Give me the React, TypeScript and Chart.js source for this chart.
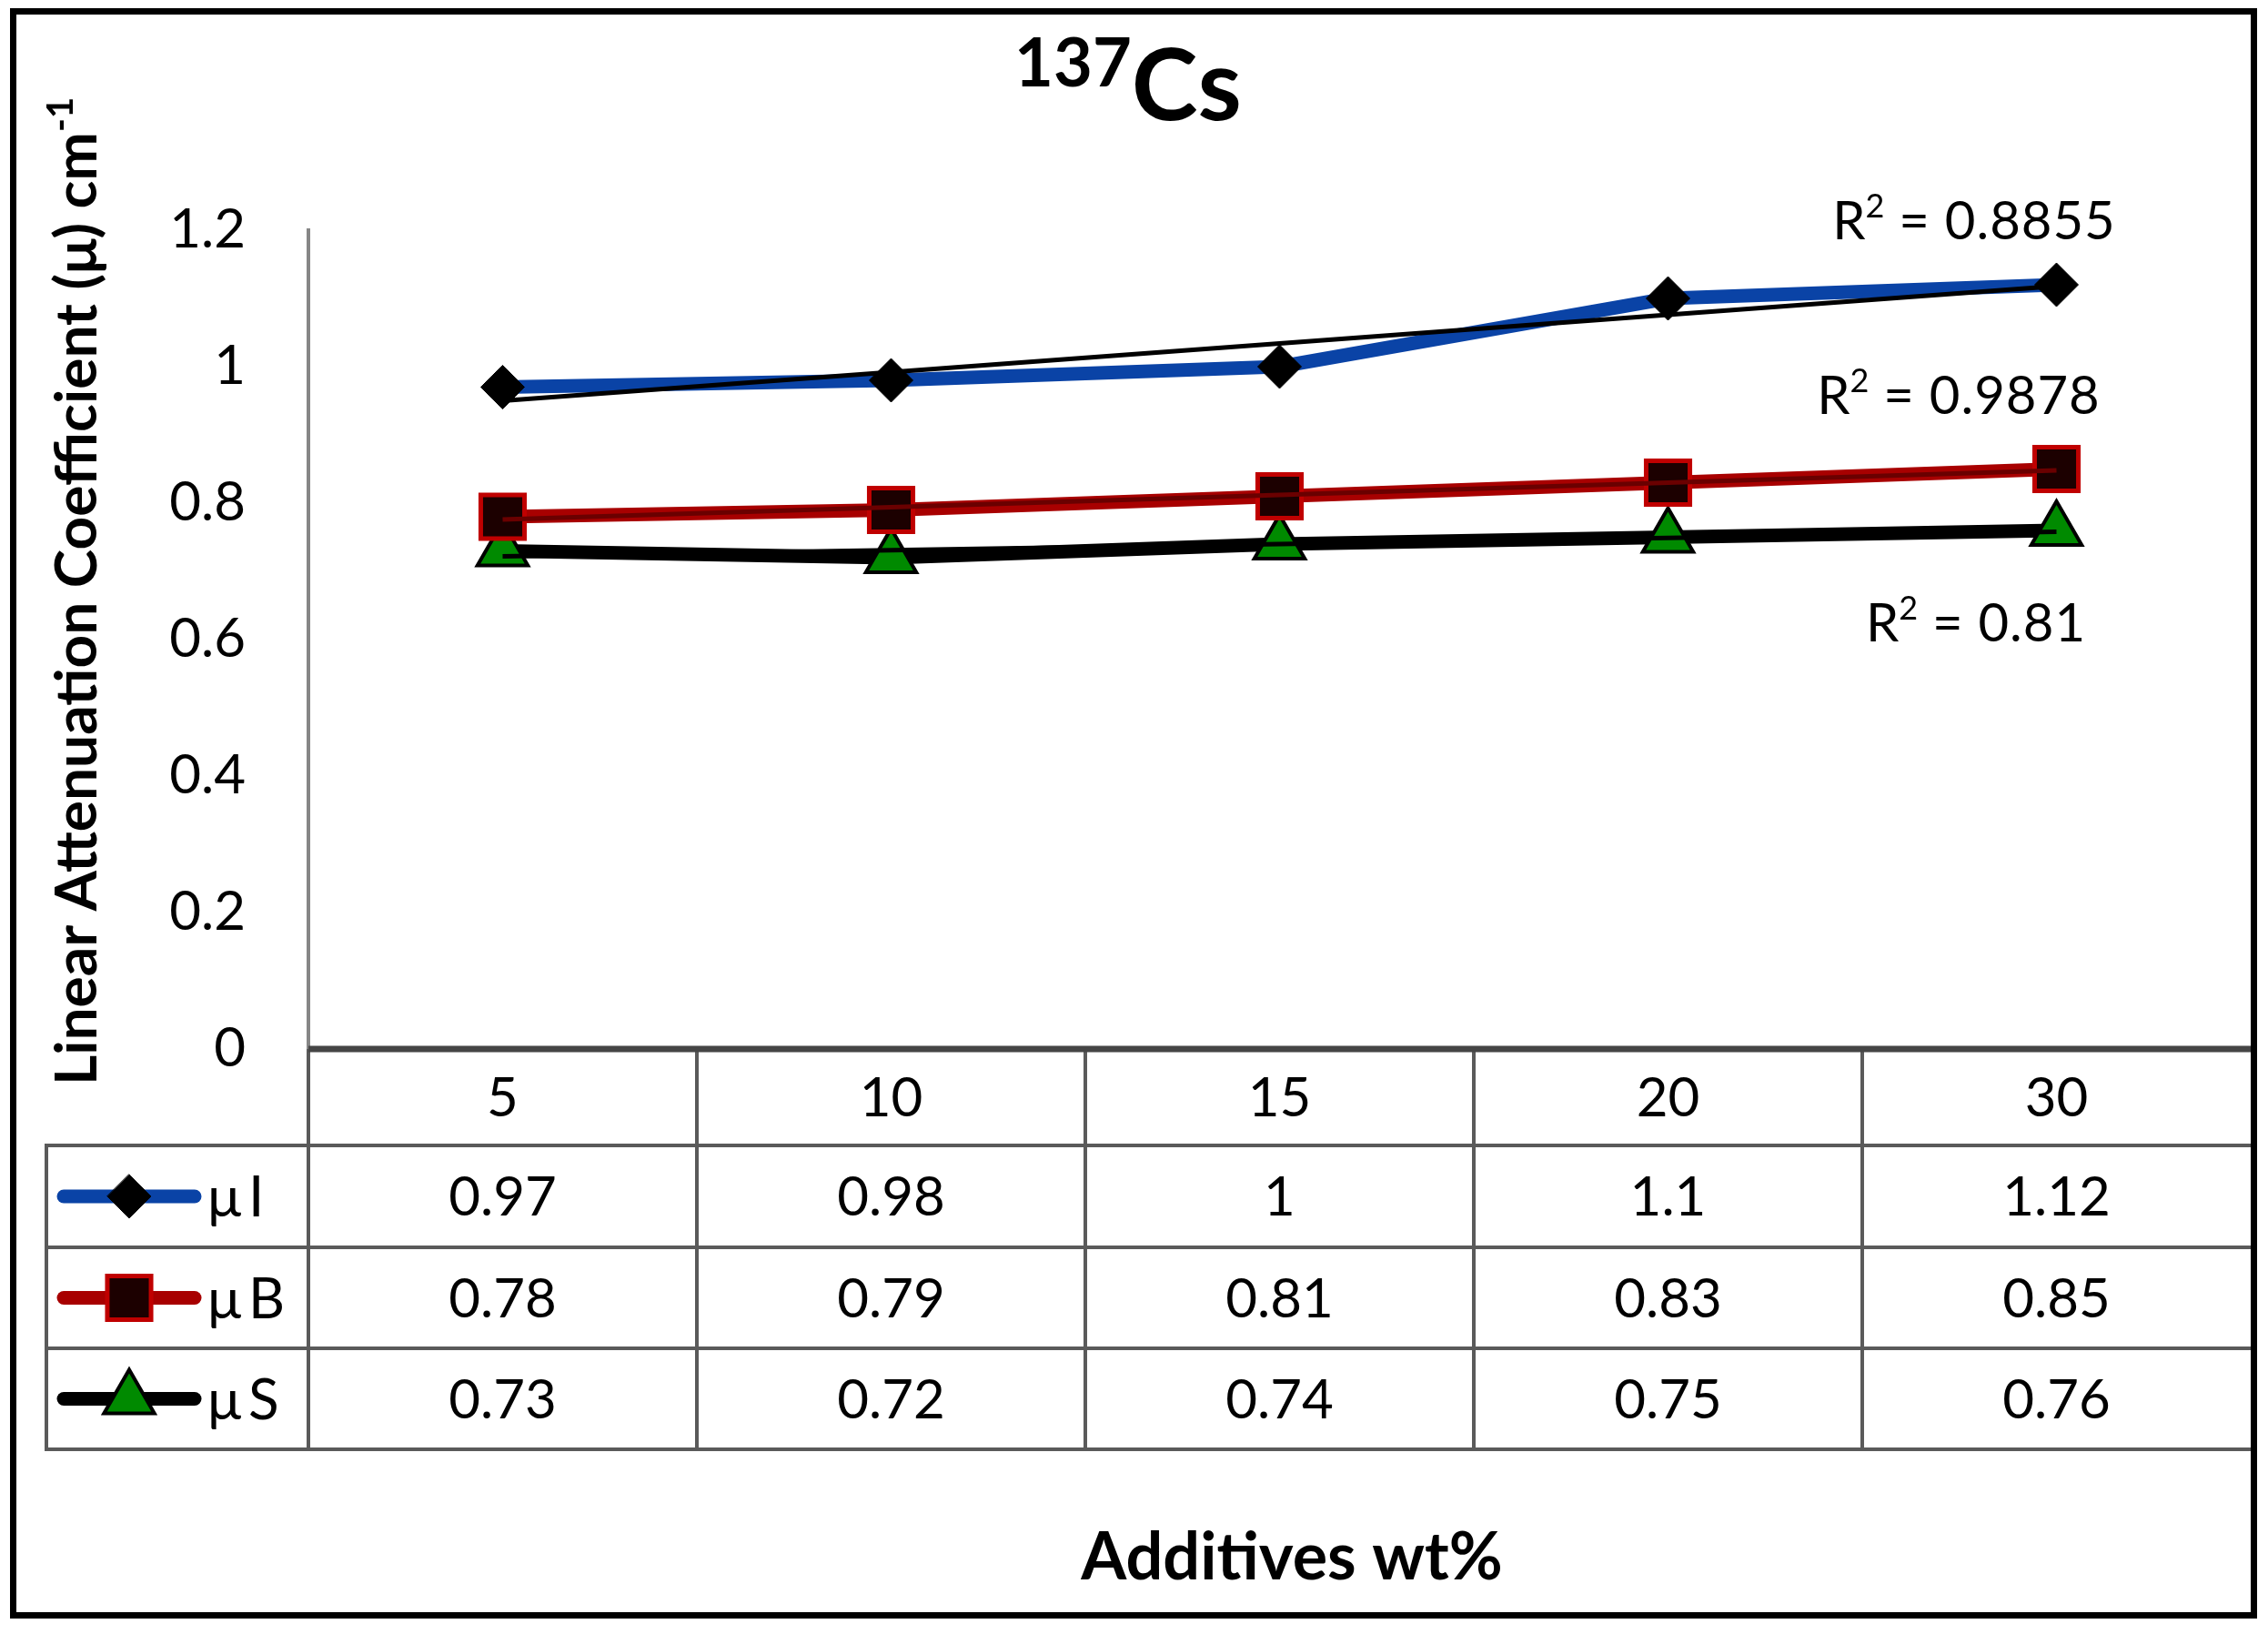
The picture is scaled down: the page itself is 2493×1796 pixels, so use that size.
import React, { useEffect, useRef } from 'react';
import { Chart, registerables } from 'chart.js';

Chart.register(...registerables);

// ---- data ----
const categories = ['5', '10', '15', '20', '30'];
const seriesNames = ['μI', 'μB', 'μS'];
const muI = [0.97, 0.98, 1, 1.1, 1.12];
const muB = [0.78, 0.79, 0.81, 0.83, 0.85];
const muS = [0.73, 0.72, 0.74, 0.75, 0.76];
const yTicks = [0, 0.2, 0.4, 0.6, 0.8, 1, 1.2];
const titleSup = '137';
const titleMain = 'Cs';
const yTitleMain = 'Linear Attenuation Coefficient (μ) cm';
const yTitleSup = '-1';
const xTitle = 'Additives wt%';

const W = 2493;
const H = 1796;
const FONT = 'Lato';

// Excel-style linear trendline (x = 1..n), computed from the data
function linearFit(values: number[]) {
  const n = values.length;
  const xs = values.map((_, i) => i + 1);
  const mx = xs.reduce((a, b) => a + b, 0) / n;
  const my = values.reduce((a, b) => a + b, 0) / n;
  let sxy = 0, sxx = 0, syy = 0;
  for (let i = 0; i < n; i++) {
    sxy += (xs[i] - mx) * (values[i] - my);
    sxx += (xs[i] - mx) ** 2;
    syy += (values[i] - my) ** 2;
  }
  const slope = sxy / sxx;
  const icpt = my - slope * mx;
  return { fitted: xs.map((x) => icpt + slope * x), r2: (sxy * sxy) / (sxx * syy) };
}

type Part = { t: string; font: string; dy: number; ls?: number };

function drawParts(ctx: CanvasRenderingContext2D, parts: Part[], x: number, y: number, align: 'center' | 'left') {
  let total = 0;
  parts.forEach((p) => {
    ctx.font = p.font;
    (ctx as any).letterSpacing = (p.ls || 0) + 'px';
    total += ctx.measureText(p.t).width;
  });
  let cx = align === 'center' ? x - total / 2 : x;
  ctx.textAlign = 'left';
  ctx.textBaseline = 'alphabetic';
  parts.forEach((p) => {
    ctx.font = p.font;
    (ctx as any).letterSpacing = (p.ls || 0) + 'px';
    ctx.fillText(p.t, cx, y + p.dy);
    cx += ctx.measureText(p.t).width;
  });
  (ctx as any).letterSpacing = '0px';
}

type MarkerStyle = { shape: string; r: number; fill: string; stroke: string; bw: number; line: string; lw: number };

const styles: MarkerStyle[] = [
  { shape: 'rectRot', r: 24, fill: '#000000', stroke: '#000000', bw: 1, line: '#0a43a6', lw: 15 },
  { shape: 'rect', r: 34, fill: '#1c0000', stroke: '#c00000', bw: 5, line: '#a80000', lw: 15 },
  { shape: 'triangle', r: 32, fill: '#008a00', stroke: '#000000', bw: 4, line: '#000000', lw: 15 },
];
const trendColors = ['#000000', '#6a0000', '#000000'];

function drawMarker(ctx: CanvasRenderingContext2D, s: MarkerStyle, x: number, y: number) {
  ctx.beginPath();
  if (s.shape === 'rectRot') {
    ctx.moveTo(x, y - s.r);
    ctx.lineTo(x + s.r, y);
    ctx.lineTo(x, y + s.r);
    ctx.lineTo(x - s.r, y);
    ctx.closePath();
  } else if (s.shape === 'rect') {
    const h = s.r * Math.SQRT1_2;
    ctx.rect(x - h, y - h, 2 * h, 2 * h);
  } else {
    const r = s.r;
    ctx.moveTo(x, y - r);
    ctx.lineTo(x + Math.sin((2 * Math.PI) / 3) * r, y + r / 2);
    ctx.lineTo(x - Math.sin((2 * Math.PI) / 3) * r, y + r / 2);
    ctx.closePath();
  }
  ctx.fillStyle = s.fill;
  ctx.fill();
  ctx.lineWidth = s.bw;
  ctx.strokeStyle = s.stroke;
  ctx.stroke();
}

export default function App() {
  const ref = useRef<HTMLCanvasElement>(null);

  useEffect(() => {
    const canvas = ref.current;
    if (!canvas) return;
    const seriesData = [muI, muB, muS];
    const fits = seriesData.map(linearFit);

    const deco = {
      id: 'deco',
      afterDraw(chart: any) {
        const { ctx, chartArea: ca, scales } = chart;
        const x = scales.x;
        ctx.save();

        // outer frame
        ctx.strokeStyle = '#000';
        ctx.lineWidth = 7;
        ctx.strokeRect(14.5, 12.5, 2463, 1763);

        // ---- data table ----
        const tableLeft = 51;
        const headerBottom = 1259;
        const rowBottoms = [1371, 1482, 1593];
        const n = categories.length;
        const colW = (ca.right - ca.left) / n;

        ctx.strokeStyle = '#5a5a5a';
        ctx.lineWidth = 4;
        for (let i = 0; i < n; i++) {
          const vx = ca.left + i * colW;
          ctx.beginPath();
          ctx.moveTo(vx, ca.bottom);
          ctx.lineTo(vx, rowBottoms[2]);
          ctx.stroke();
        }
        ctx.beginPath();
        ctx.moveTo(tableLeft, headerBottom);
        ctx.lineTo(tableLeft, rowBottoms[2]);
        ctx.stroke();
        [headerBottom, ...rowBottoms].forEach((hy) => {
          ctx.beginPath();
          ctx.moveTo(tableLeft - 2, hy);
          ctx.lineTo(ca.right, hy);
          ctx.stroke();
        });
        ctx.strokeStyle = '#454545';
        ctx.lineWidth = 7;
        ctx.beginPath();
        ctx.moveTo(ca.left, ca.bottom);
        ctx.lineTo(ca.right, ca.bottom);
        ctx.stroke();

        ctx.fillStyle = '#000';
        ctx.textAlign = 'center';
        ctx.textBaseline = 'middle';
        ctx.font = `60px ${FONT}`;
        categories.forEach((c, i) => {
          ctx.fillText(c, x.getPixelForValue(i), (ca.bottom + headerBottom) / 2 + 2);
        });
        const rowTops = [headerBottom, rowBottoms[0], rowBottoms[1]];
        seriesData.forEach((vals, r) => {
          const cy = (rowTops[r] + rowBottoms[r]) / 2 + 2;
          ctx.font = `60px ${FONT}`;
          ctx.textAlign = 'center';
          ctx.fillStyle = '#000';
          vals.forEach((v, i) => ctx.fillText(String(v), x.getPixelForValue(i), cy));
          const s = styles[r];
          ctx.strokeStyle = s.line;
          ctx.lineWidth = s.lw;
          ctx.lineCap = 'round';
          ctx.beginPath();
          ctx.moveTo(70, cy - 2);
          ctx.lineTo(214, cy - 2);
          ctx.stroke();
          drawMarker(ctx, s, 142, cy - 2);
          ctx.fillStyle = '#000';
          ctx.textAlign = 'left';
          ctx.font = `62px ${FONT}`;
          (ctx as any).letterSpacing = '8px';
          ctx.fillText(seriesNames[r], 228, cy);
          (ctx as any).letterSpacing = '0px';
        });

        // ---- title ----
        ctx.fillStyle = '#000';
        drawParts(
          ctx,
          [
            { t: titleSup, font: `bold 74px ${FONT}`, dy: -37 },
            { t: titleMain, font: `bold 110px ${FONT}`, dy: 0 },
          ],
          1240,
          132,
          'center'
        );

        // ---- y axis title ----
        ctx.save();
        ctx.translate(84, 650);
        ctx.rotate(-Math.PI / 2);
        drawParts(
          ctx,
          [
            { t: yTitleMain, font: `bold 64px ${FONT}`, dy: 0 },
            { t: yTitleSup, font: `bold 40px ${FONT}`, dy: -26 },
          ],
          0,
          22,
          'center'
        );
        ctx.restore();

        // ---- x axis title ----
        ctx.font = `bold 72px ${FONT}`;
        ctx.textAlign = 'center';
        ctx.textBaseline = 'alphabetic';
        ctx.fillText(xTitle, 1420, 1736);

        // ---- R² labels ----
        const r2Pos = [
          [2170, 263],
          [2153, 455],
          [2172, 705],
        ];
        fits.forEach((f, i) => {
          const val = String(parseFloat(f.r2.toFixed(4)));
          drawParts(
            ctx,
            [
              { t: 'R', font: `58px ${FONT}`, dy: 0 },
              { t: '2', font: `36px ${FONT}`, dy: -24 },
              { t: ' = ' + val, font: `58px ${FONT}`, dy: 0, ls: 1 },
            ],
            r2Pos[i][0],
            r2Pos[i][1],
            'center'
          );
        });

        ctx.restore();
      },
    };

    const dataSets: any[] = seriesData.map((vals, i) => ({
      label: seriesNames[i],
      data: vals,
      borderColor: styles[i].line,
      borderWidth: styles[i].lw,
      borderCapStyle: 'round',
      borderJoinStyle: 'round',
      tension: 0,
      pointStyle: styles[i].shape,
      pointRadius: styles[i].r,
      pointBackgroundColor: styles[i].fill,
      pointBorderColor: styles[i].stroke,
      pointBorderWidth: styles[i].bw,
      order: 2,
      clip: false,
    }));
    fits.forEach((f, i) => {
      dataSets.push({
        label: 'trend ' + seriesNames[i],
        data: f.fitted,
        borderColor: trendColors[i],
        borderWidth: 5,
        pointRadius: 0,
        tension: 0,
        order: 1,
        clip: false,
      });
    });

    const chart = new Chart(canvas, {
      type: 'line',
      data: { labels: categories, datasets: dataSets },
      options: {
        animation: false,
        responsive: false,
        devicePixelRatio: 1,
        layout: { autoPadding: false, padding: { top: 253, bottom: H - 1153, right: W - 2474, left: 0 } },
        plugins: {
          legend: { display: false },
          tooltip: { enabled: false },
          title: { display: false },
        },
        scales: {
          x: { type: 'category', display: false, offset: true },
          y: {
            min: 0,
            max: 1.2,
            afterFit: (s: any) => {
              s.width = 339;
            },
            afterBuildTicks: (s: any) => {
              s.ticks = yTicks.map((v) => ({ value: v }));
            },
            ticks: {
              padding: 69,
              color: '#000',
              font: { family: FONT, size: 60 },
              callback: (v: any) => String(Number(Number(v).toFixed(1))),
            },
            grid: { display: false, drawTicks: false },
            border: { display: true, color: '#868686', width: 4 },
          },
        },
      } as any,
      plugins: [deco],
    });
    return () => chart.destroy();
  }, []);

  return (
    <div style={{ position: 'absolute', left: 0, top: 0, width: W, height: H, background: '#fff' }}>
      <canvas ref={ref} width={W} height={H} style={{ display: 'block' }} />
    </div>
  );
}
